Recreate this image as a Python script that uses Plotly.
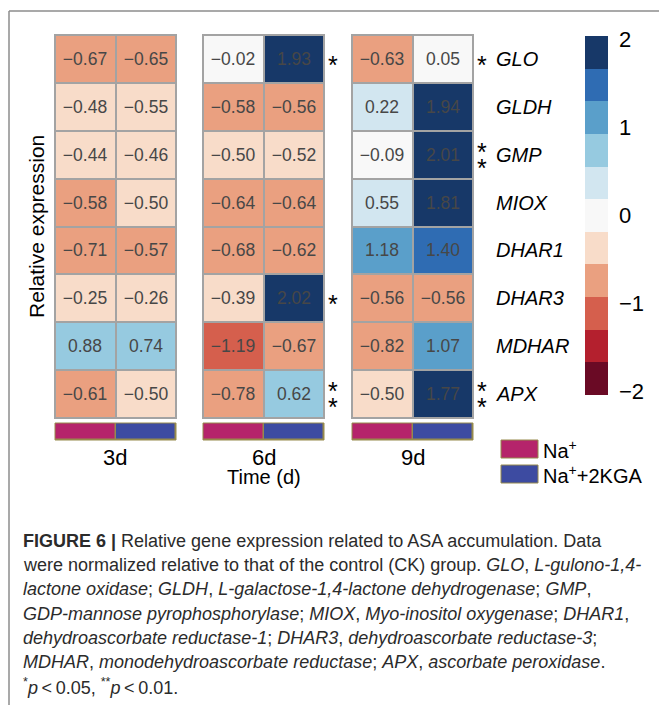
import plotly.graph_objects as go

W, H = 659, 705

# ---------------- data ----------------
genes = ["GLO", "GLDH", "GMP", "MIOX", "DHAR1", "DHAR3", "MDHAR", "APX"]
times = ["3d", "6d", "9d"]
treatments = ["Na+", "Na+2KGA"]

d3_na = [-0.67, -0.48, -0.44, -0.58, -0.71, -0.25, 0.88, -0.61]
d3_kga = [-0.65, -0.55, -0.46, -0.50, -0.57, -0.26, 0.74, -0.50]
d6_na = [-0.02, -0.58, -0.50, -0.64, -0.68, -0.39, -1.19, -0.78]
d6_kga = [1.93, -0.56, -0.52, -0.64, -0.62, 2.02, -0.67, 0.62]
d9_na = [-0.63, 0.22, -0.09, 0.55, 1.18, -0.56, -0.82, -0.50]
d9_kga = [0.05, 1.94, 2.01, 1.81, 1.40, -0.56, 1.07, 1.77]

sig_6d = ["*", "", "", "", "", "*", "", "**"]
sig_9d = ["*", "", "**", "", "", "", "", "**"]

cbar_ticks = [-2, -1, 0, 1, 2]
cbar_min, cbar_max = -2.04, 2.04

bin_colors = ["#6A0A25", "#B4202E", "#D55F4D", "#EAA080", "#F8DCC9", "#F8F8F8",
              "#D2E6F0", "#96CAE0", "#5A9FCA", "#2F6CB3", "#173868"]
group_colors = ["#B5246B", "#3D4BA1"]

panels = [(d3_na, d3_kga), (d6_na, d6_kga), (d9_na, d9_kga)]

# ---------------- layout helpers ----------------
def px(x):
    return x / W


def py(y):
    return 1 - y / H


panel_x = [(55, 176), (203, 324), (352, 473)]
heat_y = (35, 418)
bar_y = (423, 440)

FONT = "Liberation Sans, Arial, sans-serif"
CAP_FONT = "Liberation Sans, Arial, sans-serif"


def fmt(v):
    return f"{v:.2f}".replace("-", "\u2212")


colorscale = []
n = len(bin_colors)
for i, c in enumerate(bin_colors):
    colorscale.append([i / n, c])
    colorscale.append([(i + 1) / n, c])

fig = go.Figure()

for k, (na, kga) in enumerate(panels):
    xa = "x" if k == 0 else f"x{k+1}"
    z = [[a, b] for a, b in zip(na, kga)]
    txt = [[fmt(a), fmt(b)] for a, b in zip(na, kga)]
    fig.add_trace(go.Heatmap(
        z=z, x=treatments, y=genes, text=txt, texttemplate="%{text}",
        textfont=dict(family=FONT, size=17.5, color="#474747"),
        coloraxis="coloraxis", xgap=2, ygap=2,
        xaxis=xa, yaxis="y", hoverinfo="skip"))
    fig.add_trace(go.Heatmap(
        z=[[0, 1]], x=treatments, y=["group"],
        colorscale=[[0, group_colors[0]], [0.5, group_colors[0]],
                    [0.5, group_colors[1]], [1, group_colors[1]]],
        zmin=0, zmax=1, showscale=False, xgap=1.5, ygap=1.5,
        xaxis=xa, yaxis="y2", hoverinfo="skip"))

layout = dict(
    width=W, height=H, margin=dict(l=0, r=0, t=0, b=0),
    paper_bgcolor="white", plot_bgcolor="#A3A3A3",
    showlegend=False,
    font=dict(family=FONT, color="black"),
    coloraxis=dict(
        colorscale=colorscale, cmin=cbar_min, cmax=cbar_max,
        colorbar=dict(
            x=px(585), xanchor="left", xpad=0,
            y=py(36), yanchor="top", ypad=0,
            lenmode="pixels", len=359, thickness=23, outlinewidth=0,
            tickvals=cbar_ticks,
            ticktext=[str(t).replace("-", "\u2212") for t in cbar_ticks],
            ticks="outside", ticklen=7, tickcolor="rgba(0,0,0,0)",
            tickfont=dict(family=FONT, size=22, color="black"))),
    yaxis=dict(domain=[py(heat_y[1]), py(heat_y[0])], anchor="x",
               type="category", categoryarray=genes, range=[7.5, -0.5],
               showticklabels=False, showgrid=False, zeroline=False, fixedrange=True),
    yaxis2=dict(domain=[py(bar_y[1]), py(bar_y[0])], anchor="x",
                range=[-0.5, 0.5], showticklabels=False, showgrid=False,
                zeroline=False, fixedrange=True),
)
for k, (x0, x1) in enumerate(panel_x):
    name = "xaxis" if k == 0 else f"xaxis{k+1}"
    layout[name] = dict(
        domain=[px(x0), px(x1)], anchor="y2", type="category",
        categoryarray=treatments, range=[-0.5, 1.5],
        showticklabels=False, ticks="",
        showgrid=False, zeroline=False, showline=False, fixedrange=True)
fig.update_layout(**layout)

shapes = []
annotations = []
for k in range(3):
    xr = "x domain" if k == 0 else f"x{k+1} domain"
    # olive backing for annotation bar
    shapes.append(dict(type="rect", xref=xr, yref="y2 domain", x0=0, x1=1, y0=0, y1=1,
                       fillcolor="#968A4C", line=dict(width=0), layer="below"))
    shapes.append(dict(type="rect", xref=xr, yref="y2 domain", x0=0, x1=1, y0=0, y1=1,
                       line=dict(color="#968A4C", width=1)))
    # outer border of heatmap panel
    shapes.append(dict(type="rect", xref=xr, yref="y domain", x0=0, x1=1, y0=0, y1=1,
                       line=dict(color="#A3A3A3", width=2)))
    # time label
    annotations.append(dict(xref=xr, yref="paper", x=0.5, y=py(457),
                            xanchor="center", yanchor="middle", text=times[k],
                            showarrow=False,
                            font=dict(family=FONT, size=22, color="black")))

# significance stars
for xr, sig in (("x2 domain", sig_6d), ("x3 domain", sig_9d)):
    for g, s in zip(genes, sig):
        if s == "*":
            shifts = [-6]
        elif s == "**":
            shifts = [3, -13]
        else:
            shifts = []
        for sh in shifts:
            annotations.append(dict(xref=xr, yref="y", x=1, y=g, xanchor="left",
                                    yanchor="middle", xshift=2, yshift=sh, text="*",
                                    showarrow=False,
                                    font=dict(family=FONT, size=25, color="black")))

# gene labels
for g in genes:
    annotations.append(dict(xref="x3 domain", yref="y", x=1, y=g, xanchor="left",
                            yanchor="middle", xshift=21, text=f"<i>{g}</i>",
                            showarrow=False,
                            font=dict(family=FONT, size=20, color="black")))

# axis titles
annotations.append(dict(xref="paper", yref="paper", x=px(36), y=py(227),
                        xanchor="center", yanchor="middle",
                        text="Relative expression", textangle=-90, showarrow=False,
                        font=dict(family=FONT, size=21, color="black")))
annotations.append(dict(xref="paper", yref="paper", x=px(264), y=py(477),
                        xanchor="center", yanchor="middle",
                        text="Time (d)", showarrow=False,
                        font=dict(family=FONT, size=20, color="black")))

# group legend
legend_labels = ["Na<sup>+</sup>", "Na<sup>+</sup>+2KGA"]
for i, (lab, col) in enumerate(zip(legend_labels, group_colors)):
    y0 = 440 + i * 25
    shapes.append(dict(type="rect", xref="paper", yref="paper",
                       x0=px(501), x1=px(538), y0=py(y0 + 18), y1=py(y0),
                       fillcolor=col, line=dict(color="#968A4C", width=1)))
    annotations.append(dict(xref="paper", yref="paper", x=px(541), y=py(y0 + 9),
                            xanchor="left", yanchor="middle", text=lab,
                            showarrow=False,
                            font=dict(family=FONT, size=20, color="black")))

# frame
shapes.append(dict(type="line", xref="paper", yref="paper", x0=px(9), x1=1.0,
                   y0=py(11), y1=py(11), line=dict(color="#8C8C8C", width=1.5)))
shapes.append(dict(type="line", xref="paper", yref="paper", x0=px(9), x1=px(9),
                   y0=py(11), y1=0, line=dict(color="#8C8C8C", width=1.5)))

# caption
caption = [
    "<b>FIGURE 6 |</b> Relative gene expression related to ASA accumulation. Data",
    "were normalized relative to that of the control (CK) group. <i>GLO</i>, <i>L-gulono-1,4-</i>",
    "<i>lactone oxidase</i>; <i>GLDH</i>, <i>L-galactose-1,4-lactone dehydrogenase</i>; <i>GMP</i>,",
    "<i>GDP-mannose pyrophosphorylase</i>; <i>MIOX</i>, <i>Myo-inositol oxygenase</i>; <i>DHAR1</i>,",
    "<i>dehydroascorbate reductase-1</i>; <i>DHAR3</i>, <i>dehydroascorbate reductase-3</i>;",
    "<i>MDHAR</i>, <i>monodehydroascorbate reductase</i>; <i>APX</i>, <i>ascorbate peroxidase</i>.",
    "<sup>*</sup><i>p</i>\u2009<\u20090.05, <sup>**</sup><i>p</i>\u2009<\u20090.01.",
]
for i, line in enumerate(caption):
    annotations.append(dict(xref="paper", yref="paper", x=px(21), y=py(541 + i * 24.2),
                            xanchor="left", yanchor="middle", text=line,
                            showarrow=False,
                            font=dict(family=CAP_FONT, size=18, color="#2b2b2b")))

fig.update_layout(shapes=shapes, annotations=annotations)
fig.write_html("out.html", config={"displayModeBar": False},
               post_script="document.body.style.margin='0px';document.body.style.padding='0px';")
